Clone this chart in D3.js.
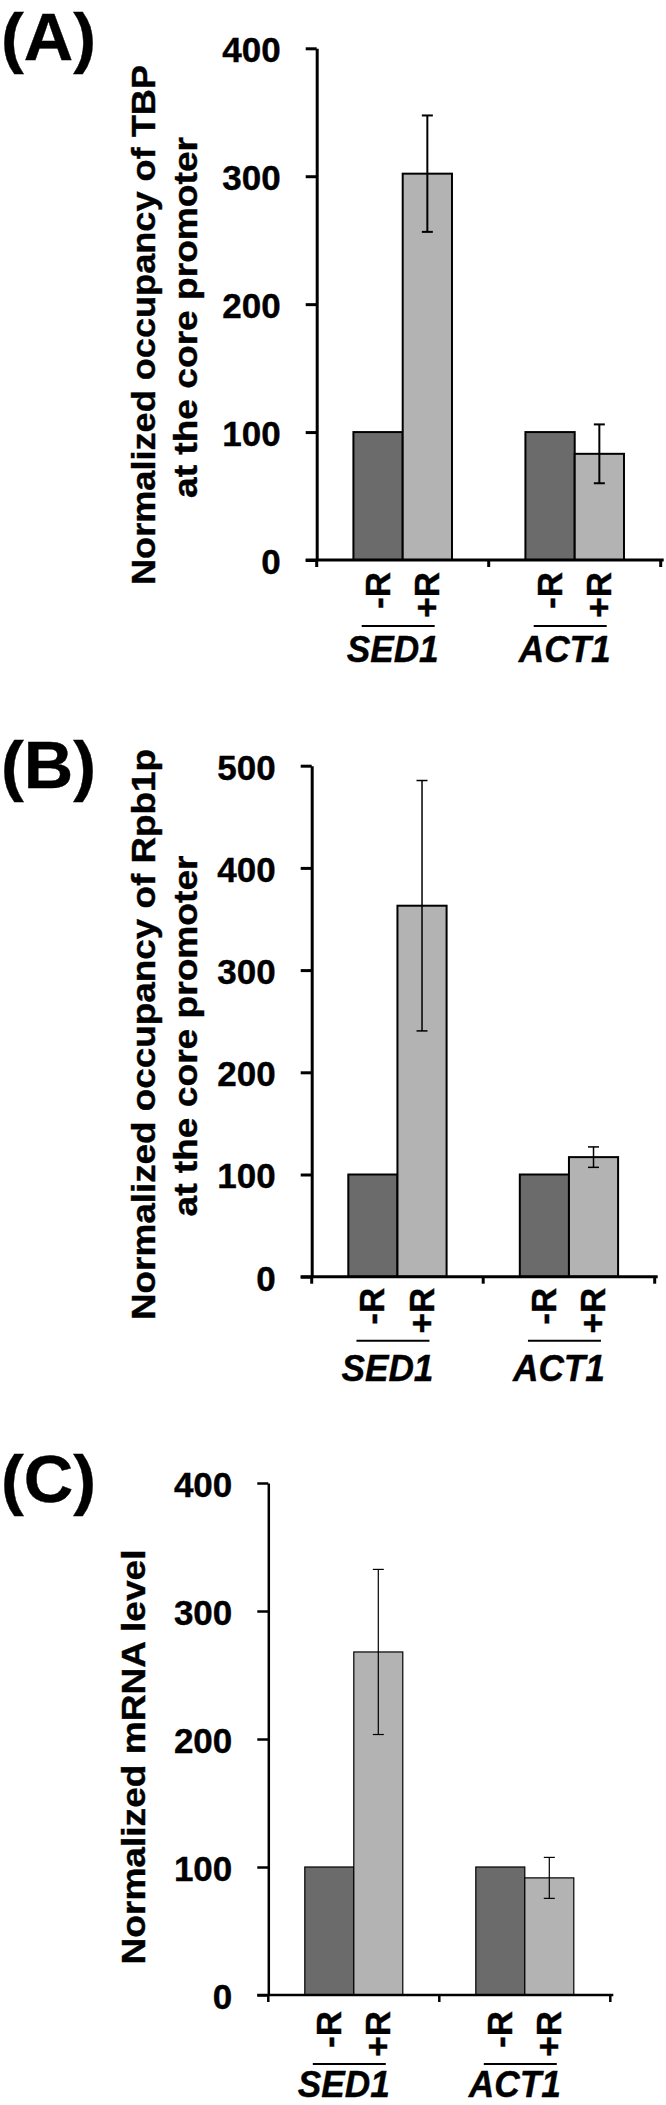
<!DOCTYPE html>
<html>
<head>
<meta charset="utf-8">
<script src="https://cdn.jsdelivr.net/npm/d3@7"></script>
<style>
  html, body { margin: 0; padding: 0; background: #ffffff; }
  svg { display: block; }
  text { font-family: "Liberation Sans", Arial, Helvetica, sans-serif; font-weight: bold; fill: #000; stroke: #000; stroke-width: 0.4px; }
</style>
</head>
<body>
<svg id="chart" width="666" height="2105"></svg>
<script>
// ---------------- data ----------------
const categories = ["SED1", "ACT1"];
const conditions = ["-R", "+R"];
const panelLabels = ["(A)", "(B)", "(C)"];

const titleA = ["Normalized occupancy of TBP", "at the core promoter"];
const titleB = ["Normalized occupancy of Rpb1p", "at the core promoter"];
const titleC = ["Normalized mRNA level"];

const ticksA = [0, 100, 200, 300, 400];
const ticksB = [0, 100, 200, 300, 400, 500];
const ticksC = [0, 100, 200, 300, 400];

// values per category: [-R, +R]
const tbpSED1 = [100, 302];
const tbpACT1 = [100, 83];
const tbpErrSED1 = [0, 45.5];
const tbpErrACT1 = [0, 23];

const rpbSED1 = [100, 363];
const rpbACT1 = [100, 117];
const rpbErrSED1 = [0, 122.5];
const rpbErrACT1 = [0, 10];

const mrnaSED1 = [100, 268];
const mrnaACT1 = [100, 91.5];
const mrnaErrSED1 = [0, 64.5];
const mrnaErrACT1 = [0, 16];

// ---------------- layout ----------------
const colors = ["#6b6b6b", "#b3b3b3"];
const svg = d3.select("#chart");
svg.append("rect").attr("width", 666).attr("height", 2105).attr("fill", "#fff");

const panels = [
  { label: panelLabels[0], labelY: 60, title: titleA, titleX: [155, 197], titleCy: [325, 317.5], titleLen: [520, 361],
    ticks: ticksA, ymax: 400, yx: 316.7, y0: 560, yTop: 48.3, band: 172,
    values: [tbpSED1, tbpACT1], errs: [tbpErrSED1, tbpErrACT1],
    barStroke: 2, errStroke: 2, axisStroke: 3, lblTop: 12, lineOff: 66, nameOff: 102 },
  { label: panelLabels[1], labelY: 788, title: titleB, titleX: [155, 197], titleCy: [1034.5, 1036], titleLen: [571, 361],
    ticks: ticksB, ymax: 500, yx: 311.7, y0: 1276.7, yTop: 765.7, band: 171.5,
    values: [rpbSED1, rpbACT1], errs: [rpbErrSED1, rpbErrACT1],
    barStroke: 2, errStroke: 1.5, axisStroke: 3, lblTop: 11, lineOff: 64, nameOff: 104 },
  { label: panelLabels[2], labelY: 1502, title: titleC, titleX: [145], titleCy: [1757], titleLen: [415],
    ticks: ticksC, ymax: 400, yx: 268.3, y0: 1995, yTop: 1483, band: 171,
    values: [mrnaSED1, mrnaACT1], errs: [mrnaErrSED1, mrnaErrACT1],
    barStroke: 1.2, errStroke: 1.2, axisStroke: 2.5, lblTop: 16, lineOff: 69, nameOff: 102 }
];

panels.forEach(drawPanel);

function drawPanel(cfg) {
  const g = svg.append("g");
  const y = d3.scaleLinear().domain([0, cfg.ymax]).range([cfg.y0, cfg.yTop]);
  const x = d3.scaleBand().domain(categories).range([cfg.yx, cfg.yx + 2 * cfg.band]).padding(0);
  const xi = d3.scaleBand().domain(conditions).range([0, x.bandwidth()])
    .paddingInner(0).paddingOuter(0.745);

  // bars
  categories.forEach((cat, i) => {
    conditions.forEach((cond, j) => {
      const v = cfg.values[i][j];
      g.append("rect")
        .attr("x", x(cat) + xi(cond))
        .attr("y", y(v))
        .attr("width", xi.bandwidth())
        .attr("height", y(0) - y(v))
        .attr("fill", colors[j])
        .attr("stroke", "#000")
        .attr("stroke-width", cfg.barStroke);
    });
  });

  // error bars
  categories.forEach((cat, i) => {
    conditions.forEach((cond, j) => {
      const v = cfg.values[i][j], e = cfg.errs[i][j];
      if (!e) return;
      const cx = x(cat) + xi(cond) + xi.bandwidth() / 2;
      const eg = g.append("g").attr("stroke", "#000").attr("stroke-width", cfg.errStroke);
      eg.append("line").attr("x1", cx).attr("x2", cx).attr("y1", y(v + e)).attr("y2", y(v - e));
      [v + e, v - e].forEach(t => {
        eg.append("line").attr("x1", cx - 5.5).attr("x2", cx + 5.5).attr("y1", y(t)).attr("y2", y(t));
      });
    });
  });

  // y axis
  const ya = g.append("g")
    .attr("transform", `translate(${cfg.yx},0)`)
    .call(d3.axisLeft(y).tickValues(cfg.ticks).tickSize(11).tickSizeOuter(0).tickPadding(25).tickFormat(d3.format("d")));
  ya.select(".domain").attr("stroke", "#000").attr("stroke-width", cfg.axisStroke);
  ya.selectAll(".tick line").attr("stroke", "#000").attr("stroke-width", cfg.axisStroke);
  ya.selectAll(".tick text")
    .attr("fill", "#000")
    .attr("dy", "0.38em")
    .style("font-size", "35px")
    .style("font-family", "'Liberation Sans', Arial, Helvetica, sans-serif")
    .style("font-weight", "bold")
    .style("stroke", "#000")
    .style("stroke-width", "0.4px");

  // x axis (line + ticks at category boundaries)
  const xr = x.range();
  g.append("line")
    .attr("x1", cfg.yx - 11).attr("x2", xr[1] + 3)
    .attr("y1", cfg.y0).attr("y2", cfg.y0)
    .attr("stroke", "#000").attr("stroke-width", cfg.axisStroke);
  const bounds = categories.map(c => x(c)).concat([xr[1]]);
  bounds.forEach(b => {
    g.append("line")
      .attr("x1", b).attr("x2", b)
      .attr("y1", cfg.y0).attr("y2", cfg.y0 + 7)
      .attr("stroke", "#000").attr("stroke-width", cfg.axisStroke);
  });

  // condition labels (rotated)
  categories.forEach(cat => {
    conditions.forEach(cond => {
      const cx = x(cat) + xi(cond) + xi.bandwidth() / 2;
      g.append("text")
        .attr("transform", `translate(${cx - 1},${cfg.y0 + cfg.lblTop}) rotate(-90)`)
        .attr("text-anchor", "end")
        .attr("dy", "0.36em")
        .style("font-size", "35px")
        .text(cond);
    });
    const c = x(cat) + x.bandwidth() / 2;
    g.append("line")
      .attr("x1", c - 41).attr("x2", c + 32)
      .attr("y1", cfg.y0 + cfg.lineOff).attr("y2", cfg.y0 + cfg.lineOff)
      .attr("stroke", "#000").attr("stroke-width", 2);
    g.append("text")
      .attr("x", c - 10)
      .attr("y", cfg.y0 + cfg.nameOff)
      .attr("text-anchor", "middle")
      .attr("textLength", 92)
      .attr("lengthAdjust", "spacingAndGlyphs")
      .style("font-size", "37px")
      .style("font-style", "italic")
      .text(cat);
  });

  // y title
  cfg.title.forEach((t, i) => {
    g.append("text")
      .attr("transform", `translate(${cfg.titleX[i]},${cfg.titleCy[i]}) rotate(-90)`)
      .attr("text-anchor", "middle")
      .attr("textLength", cfg.titleLen[i])
      .attr("lengthAdjust", "spacingAndGlyphs")
      .style("font-size", "34px")
      .text(t);
  });

  // panel label
  g.append("text")
    .attr("x", 1)
    .attr("y", cfg.labelY)
    .attr("textLength", 95)
    .attr("lengthAdjust", "spacingAndGlyphs")
    .style("font-size", "66px")
    .text(cfg.label);
}
</script>
</body>
</html>
